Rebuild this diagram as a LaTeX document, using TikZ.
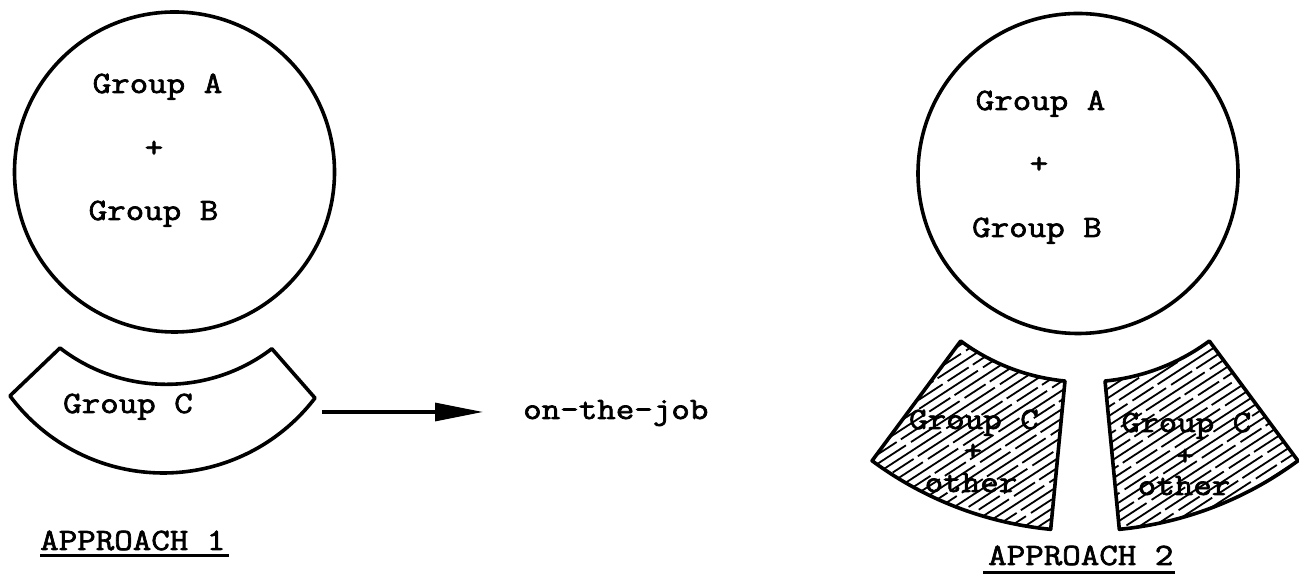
\documentclass[tikz,border=0pt]{standalone}
\usepackage{fontspec}
\newfontfamily\tw[FakeStretch=1.16,FakeBold=2.2]{Latin Modern Mono}
\usetikzlibrary{arrows.meta,calc}
\begin{document}
\begin{tikzpicture}[x=1pt,y=1pt,
  txt/.style={inner sep=0pt,font=\tw\fontsize{31}{36}\selectfont},
  outline/.style={draw=black,line width=3.6pt,line join=round},
  hatchline/.style={line width=1.8pt,dash pattern=on 70pt off 6pt on 25pt off 5pt},
  arr/.style={line width=3.2pt,-{Triangle[length=48pt,width=18pt]}},
  uline/.style={line width=3pt}]
\useasboundingbox (0,0) rectangle (1299,577);

% ---------- Approach 1 ----------
\node[circle,outline,minimum size=320pt,inner sep=0pt] (c1) at (174.5,405) {};
\node[txt,anchor=base] (c1a) at (157.5,484) {Group A};
\node[txt] (c1p) at (154,428) {+};
\node[txt,anchor=base] (c1b) at (153.5,357) {Group B};

\coordinate (bTL) at (60,229);
\coordinate (bR) at (315,179);
\draw[outline] (bTL) arc[start angle=232.3,end angle=307.3,radius=174]
  -- (bR) arc[start angle=322.6,end angle=216.6,radius=191] -- cycle;
\node[txt,anchor=base] (bc) at (128,164) {Group C};

\coordinate (arrS) at (322,165);
\node[txt,anchor=base west] (otj) at (523,158) {on-the-job};
\draw[arr,shorten >=40pt] (arrS) -- (arrS -| otj.west);

\node[txt,anchor=base west] (ap1) at (40,27) {APPROACH 1};
\draw[uline] ([yshift=-6pt]ap1.base west) -- ([yshift=-6pt,xshift=3pt]ap1.base east);

% ---------- Approach 2 ----------
\node[circle,outline,minimum size=320pt,inner sep=0pt] (c2) at (1078,403.5) {};
\node[txt,anchor=base] (c2a) at (1040.5,467) {Group A};
\node[txt] (c2p) at (1039,412) {+};
\node[txt,anchor=base] (c2b) at (1037,340) {Group B};

\coordinate (S) at (1085,404);
% left sector
\begin{scope}
  \clip (S) ++(233.5:209) arc[start angle=233.5,end angle=264.5,radius=209]
    -- ($(S)+(264.5:358)$) arc[start angle=264.5,end angle=233.5,radius=358] -- cycle;
  \begin{scope}[shift={(975,130)},rotate=33]
    \foreach \i in {-30,...,30} \draw[hatchline,dash phase={mod(\i*37,106)*1pt}] (-260,\i*7.8) -- (260,\i*7.8);
  \end{scope}
\end{scope}
\draw[outline] (S) ++(233.5:209) arc[start angle=233.5,end angle=264.5,radius=209]
  -- ($(S)+(264.5:358)$) arc[start angle=264.5,end angle=233.5,radius=358] -- cycle;
% right sector
\begin{scope}
  \clip (S) ++(275.5:209) arc[start angle=275.5,end angle=306.5,radius=209]
    -- ($(S)+(306.5:358)$) arc[start angle=306.5,end angle=275.5,radius=358] -- cycle;
  \begin{scope}[shift={(1190,130)},rotate=33]
    \foreach \i in {-30,...,30} \draw[hatchline,dash phase={mod(\i*41,106)*1pt}] (-260,\i*7.8) -- (260,\i*7.8);
  \end{scope}
\end{scope}
\draw[outline] (S) ++(275.5:209) arc[start angle=275.5,end angle=306.5,radius=209]
  -- ($(S)+(306.5:358)$) arc[start angle=306.5,end angle=275.5,radius=358] -- cycle;

\node[txt,anchor=base] (l1) at (974,148) {Group C};
\node[txt] (l2) at (973,125) {+};
\node[txt,anchor=base] (l3) at (971,85) {other};
\node[txt,anchor=base] (r1) at (1186.5,145) {Group C};
\node[txt] (r2) at (1185,120) {+};
\node[txt,anchor=base] (r3) at (1184,82) {other};

\node[txt,anchor=base west] (ap2) at (988,12) {APPROACH 2};
\draw[uline] ([yshift=-8pt,xshift=-5pt]ap2.base west) -- ([yshift=-8pt,xshift=1pt]ap2.base east);
\end{tikzpicture}
\end{document}
